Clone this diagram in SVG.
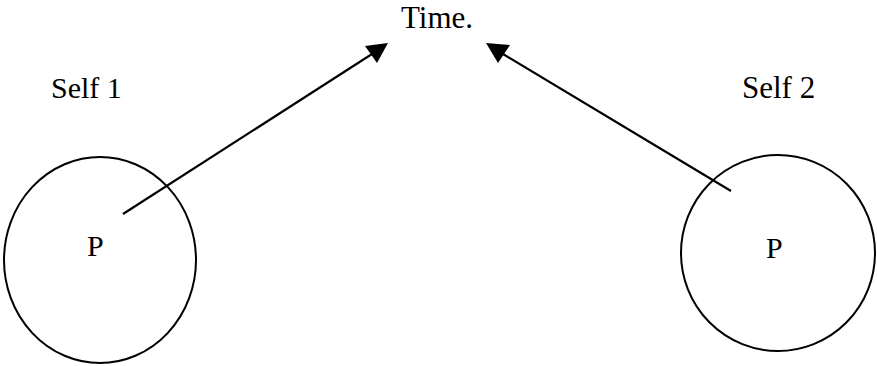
<svg xmlns="http://www.w3.org/2000/svg" width="877" height="366" viewBox="0 0 877 366">
<style>
.t{font-family:"Liberation Serif","Times New Roman",serif;font-size:30px;fill:#000}
.c{fill:none;stroke:#000;stroke-width:2}
.ln{stroke:#000;stroke-width:2.2;fill:none}
.hd{fill:#000;stroke:none}
</style>
<rect width="877" height="366" fill="#fff"/>
<g id="time"><text class="t" x="401" y="28" style="font-size:31px">Time.</text></g>
<g id="self1">
<text class="t" x="51" y="98">Self 1</text>
<ellipse class="c" cx="100" cy="260" rx="96" ry="103"/>
<text class="t" x="87" y="256">P</text>
</g>
<g id="self2">
<text class="t" x="742" y="98" style="font-size:31px">Self 2</text>
<ellipse class="c" cx="778" cy="253" rx="97" ry="98"/>
<text class="t" x="766" y="258">P</text>
</g>
<g id="connectors">
<line class="ln" x1="123" y1="214" x2="372" y2="54"/>
<polygon class="hd" points="388,43 365,46 377,63"/>
<line class="ln" x1="731" y1="191" x2="503" y2="54"/>
<polygon class="hd" points="486,43 510,45 498,63"/>
</g>
</svg>
